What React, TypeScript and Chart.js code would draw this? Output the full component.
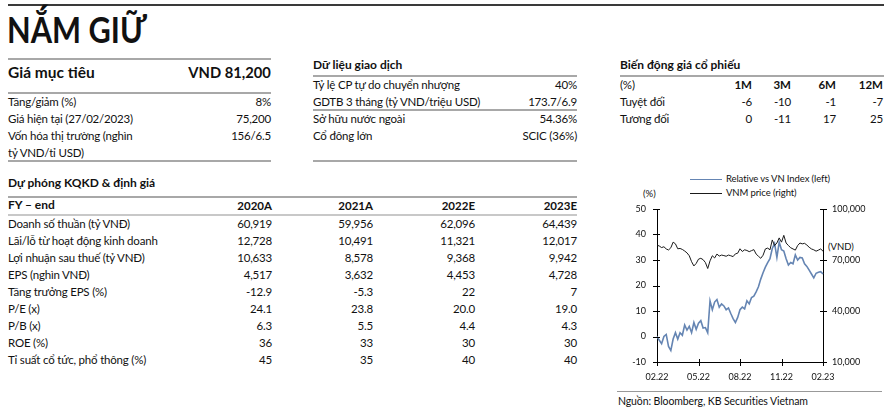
import React, { useEffect, useRef } from "react";
import { Chart, registerables } from "chart.js";
Chart.register(...registerables);

const dateLabels: string[] = [];
const months = ["02.22","03.22","04.22","05.22","06.22","07.22","08.22","09.22","10.22","11.22","12.22","01.23","02.23"];
for (let m = 0; m < 12; m++) for (let k = 0; k < 6; k++) dateLabels.push(k === 0 ? months[m] : months[m] + "-" + k);
dateLabels.push("02.23");
const tickMonths = ["02.22", "05.22", "08.22", "11.22", "02.23"];

const relativeVsIndex = [
  0, -1.5, -2.8, 0, 0.8, -3.9, -5.5, -1, 1.5, -1, 1.5, 0.5,
  4.5, 2.5, 4, 1.5, 5.5, 2.8, 5.2, 6.2, 3.3, 3.5, 1.5, 14,
  10.5, 13.5, 14.5, 11.5, 12.8, 12, 10.5, 11.2, 9, 7, 5.5, 7.5,
  10.5, 11.5, 10.8, 14, 12.8, 15.3, 15.8, 17.5, 19.5, 22.5, 25, 27.2,
  29, 30.5, 34.5, 36.5, 31, 37, 34, 33.5, 30.5, 28, 29, 28.5,
  32, 30, 31, 30.8, 28.5, 27.5, 26, 24.5, 23, 24.8, 25.2, 25.4, 24.5,
];
const vnmPrice = [
  78800, 78200, 77300, 77800, 76500, 75900, 77200, 80500, 79500, 76600, 76800, 76200,
  75300, 74200, 72500, 69000, 66500, 68000, 70500, 71000, 70200, 68500, 65000, 69500,
  72500, 71200, 73500, 72300, 72900, 72600, 72200, 72900, 72500, 72000, 73600, 74000,
  76600, 75000, 76000, 75600, 74900, 75500, 76100, 73500, 72200, 71000, 72800, 76500,
  77000, 76000, 81800, 78500, 80000, 83000, 80500, 84500, 80000, 78500, 77200, 76500,
  75800, 78500, 80000, 79500, 79800, 78800, 77500, 76500, 76000, 75200, 75800, 76500, 75200,
];
const leftTicks = [-10, 0, 10, 20, 30, 40, 50];
const rightTicks = [10000, 40000, 70000, 100000];

const fyYears = ["2020A", "2021A", "2022E", "2023E"];
const fyRows = [
  "Doanh số thuần (tỷ VNĐ)", "Lãi/lỗ từ hoạt động kinh doanh", "Lợi nhuận sau thuế (tỷ VNĐ)",
  "EPS (nghìn VNĐ)", "Tăng trưởng EPS (%)", "P/E (x)", "P/B (x)", "ROE (%)", "Tỉ suất cổ tức, phổ thông (%)",
];
const fy2020 = ["60,919", "12,728", "10,633", "4,517", "-12.9", "24.1", "6.3", "36", "45"];
const fy2021 = ["59,956", "10,491", "8,578", "3,632", "-5.3", "23.8", "5.5", "33", "35"];
const fy2022 = ["62,096", "11,321", "9,368", "4,453", "22", "20.0", "4.4", "30", "40"];
const fy2023 = ["64,439", "12,017", "9,942", "4,728", "7", "19.0", "4.3", "30", "40"];

const perfCols = ["1M", "3M", "6M", "12M"];
const perfAbs = ["-6", "-10", "-1", "-7"];
const perfRel = ["0", "-11", "17", "25"];

const FONT = "Lato, 'Noto Sans', sans-serif";
const BLUE = "#6585b3";

function T(p: { x: number; y: number; t: string; right?: boolean; size?: number; w?: number; ls?: number; sx?: number }) {
  const size = p.size ?? 11.5;
  const lh = Math.round(size * 1.3);
  const st: any = {
    position: "absolute", top: p.y - lh / 2, fontSize: size, lineHeight: lh + "px",
    fontWeight: p.w ?? 400, whiteSpace: "nowrap", color: "#111",
    letterSpacing: (p.ls ?? (p.w ? 0 : -0.2)) + "px",
  };
  if (p.sx) { st.transform = `scaleX(${p.sx})`; st.transformOrigin = p.right ? "right center" : "left center"; }
  if (p.right) st.right = 890 - p.x; else st.left = p.x;
  return <div style={st}>{p.t}</div>;
}
function L(p: { x1: number; x2: number; y: number; c?: string; h?: number }) {
  const h = p.h ?? 1.5;
  return <div style={{ position: "absolute", left: p.x1, width: p.x2 - p.x1, top: p.y - h / 2, height: h, background: p.c ?? "#a8a8a8" }} />;
}

const crossTicks = {
  id: "crossTicks",
  afterDraw(chart: any) {
    const ctx = chart.ctx;
    const a = chart.chartArea;
    ctx.save();
    ctx.strokeStyle = "#000";
    ctx.lineWidth = 1;
    const yl = chart.scales.y, yr = chart.scales.y2, x = chart.scales.x;
    ctx.beginPath();
    leftTicks.forEach((v) => { const py = Math.round(yl.getPixelForValue(v)) + 0.5; ctx.moveTo(a.left - 4, py); ctx.lineTo(a.left + 3, py); });
    rightTicks.forEach((v) => { const py = Math.round(yr.getPixelForValue(v)) + 0.5; ctx.moveTo(a.right - 3, py); ctx.lineTo(a.right + 4, py); });
    tickMonths.forEach((m) => { const px = Math.round(x.getPixelForValue(dateLabels.indexOf(m))) + 0.5; ctx.moveTo(px, a.bottom - 3); ctx.lineTo(px, a.bottom + 4); });
    ctx.stroke();
    ctx.restore();
  },
};

function PriceChart() {
  const ref = useRef<HTMLCanvasElement>(null);
  useEffect(() => {
    const tickFont = { family: FONT, size: 9 };
    const chart = new Chart(ref.current!, {
      type: "line",
      data: {
        labels: dateLabels,
        datasets: [
          { label: "VNM price (right)", data: vnmPrice, yAxisID: "y2", borderColor: "#1a1a1a", borderWidth: 1, pointRadius: 0, tension: 0 },
          { label: "Relative vs VN Index (left)", data: relativeVsIndex, yAxisID: "y", borderColor: BLUE, borderWidth: 1.6, pointRadius: 0, tension: 0 },
        ],
      },
      options: {
        animation: false,
        responsive: false,
        maintainAspectRatio: false,
        layout: { padding: { top: 9, left: 0, right: 0, bottom: 0 } },
        plugins: { legend: { display: false }, tooltip: { enabled: false } },
        scales: {
          x: {
            type: "category",
            offset: false,
            grid: { display: false },
            border: { display: true, color: "#000", width: 1 },
            ticks: {
              autoSkip: false, maxRotation: 0, color: "#111", font: tickFont, padding: 2,
              callback: (v: any) => (tickMonths.includes(dateLabels[v]) ? dateLabels[v] : ""),
            },
            afterFit: (s: any) => { s.height = 28; },
          },
          y: {
            position: "left", min: -10, max: 50,
            grid: { display: false },
            border: { display: true, color: "#000", width: 1 },
            ticks: { stepSize: 10, color: "#111", font: tickFont, padding: 3 },
            afterFit: (s: any) => { s.width = 42; },
          },
          y2: {
            position: "right", min: 10000, max: 100000,
            grid: { display: false },
            border: { display: true, color: "#000", width: 1 },
            afterBuildTicks: (s: any) => { s.ticks = rightTicks.map((v) => ({ value: v })); },
            ticks: { color: "#111", font: tickFont, padding: 1, callback: (v: any) => Number(v).toLocaleString("en-US") },
            afterFit: (s: any) => { s.width = 67; },
          },
        },
      },
      plugins: [crossTicks],
    } as any);
    return () => chart.destroy();
  }, []);
  return <canvas ref={ref} width={275} height={190} style={{ position: "absolute", left: 615, top: 200, width: 275, height: 190 }} />;
}

export default function App() {
  const rowYs = fyRows.map((_, i) => 223 + i * 17);
  const yearX = [272, 373, 475, 577];
  const yearVals = [fy2020, fy2021, fy2022, fy2023];
  const perfX = [752, 791, 836, 883];
  return (
    <div style={{ position: "absolute", left: 0, top: 0, width: 890, height: 409, background: "#fff", fontFamily: FONT, overflow: "hidden" }}>
      <L x1={8} x2={884} y={4.5} c="#3a3a3a" h={2} />
      <T x={7} y={29} t="NẮM GIỮ" size={37} w={700} sx={0.83} />

      <L x1={8} x2={271} y={59} />
      <T x={8} y={72} t="Giá mục tiêu" size={15.5} w={700} />
      <T x={271} y={72} t="VND 81,200" right size={15.5} w={700} sx={0.95} />
      <L x1={8} x2={271} y={93} />
      <T x={8} y={101} t="Tăng/giảm (%)" />
      <T x={271} y={101} t="8%" right />
      <T x={8} y={118} t="Giá hiện tại (27/02/2023)" />
      <T x={271} y={118} t="75,200" right />
      <T x={8} y={135} t="Vốn hóa thị trường (nghìn" />
      <T x={271} y={135} t="156/6.5" right />
      <T x={8} y={152} t="tỷ VND/tỉ USD)" />
      <L x1={8} x2={271} y={161} />

      <T x={313} y={65} t="Dữ liệu giao dịch" size={12} w={700} />
      <L x1={313} x2={577} y={76} />
      <T x={313} y={84} t="Tỷ lệ CP tự do chuyển nhượng" />
      <T x={577} y={84} t="40%" right />
      <T x={313} y={101} t="GDTB 3 tháng (tỷ VND/triệu USD)" />
      <T x={577} y={101} t="173.7/6.9" right />
      <L x1={313} x2={577} y={110} />
      <T x={313} y={118} t="Sở hữu nước ngoài" />
      <T x={577} y={118} t="54.36%" right />
      <T x={313} y={135} t="Cổ đông lớn" />
      <T x={577} y={135} t="SCIC (36%)" right />
      <L x1={313} x2={577} y={161} />

      <T x={620} y={65} t="Biến động giá cổ phiếu" size={12} w={700} />
      <L x1={620} x2={884} y={76} />
      <T x={620} y={84} t="(%)" />
      {perfCols.map((c, i) => <T key={"pc" + i} x={perfX[i]} y={84} t={c} right w={700} size={11.5} />)}
      <T x={620} y={101} t="Tuyệt đối" />
      {perfAbs.map((c, i) => <T key={"pa" + i} x={perfX[i]} y={101} t={c} right />)}
      <T x={620} y={118} t="Tương đối" />
      {perfRel.map((c, i) => <T key={"pr" + i} x={perfX[i]} y={118} t={c} right />)}

      <T x={8} y={183} t="Dự phóng KQKD & định giá" size={12} w={700} />
      <L x1={8} x2={577} y={197} />
      <T x={8} y={205} t="FY – end" size={12} w={700} />
      {fyYears.map((yy, i) => <T key={"fy" + i} x={yearX[i]} y={205} t={yy} right size={11.5} w={700} />)}
      <L x1={8} x2={577} y={215} c="#c8c8c8" />
      {fyRows.map((r, i) => <T key={"r" + i} x={8} y={rowYs[i]} t={r} />)}
      {yearVals.map((arr, j) => arr.map((v, i) => <T key={"v" + j + "-" + i} x={yearX[j]} y={rowYs[i]} t={v} right />))}

      <div style={{ position: "absolute", left: 690, top: 178.5, width: 32, height: 1.6, background: BLUE }} />
      <T x={726} y={179} t="Relative vs VN Index (left)" size={9.5} ls={-0.1} />
      <div style={{ position: "absolute", left: 690, top: 193, width: 32, height: 1, background: "#1a1a1a" }} />
      <T x={726} y={193} t="VNM price (right)" size={9.5} ls={-0.1} />
      <T x={643} y={194} t="(%)" size={9.5} ls={0} />
      <T x={828} y={247} t="(VND)" size={9.5} ls={0} />
      <PriceChart />
      <L x1={617} x2={882} y={391} c="#999" h={1} />
      <T x={618} y={401} t="Nguồn: Bloomberg, KB Securities Vietnam" size={10.5} ls={-0.1} />
    </div>
  );
}
